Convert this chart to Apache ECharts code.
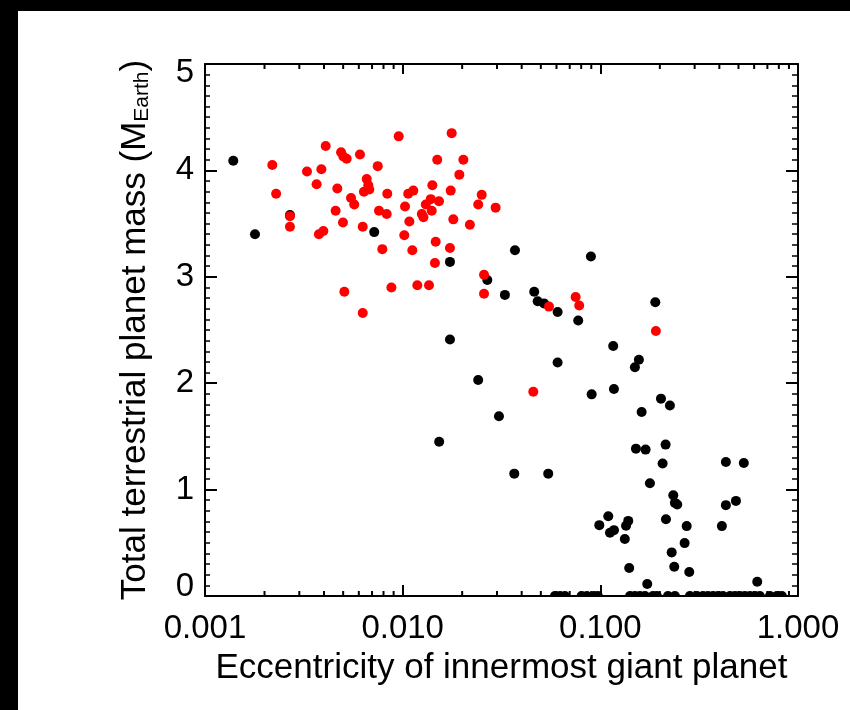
<!DOCTYPE html>
<html>
<head>
<meta charset="utf-8">
<script src="https://cdn.jsdelivr.net/npm/echarts@6/dist/echarts.min.js"></script>
<style>
html,body{margin:0;padding:0;background:#fff;overflow:hidden;}
#chart{position:fixed;left:0;top:0;width:850px;height:710px;background:#fff;}
</style>
</head>
<body>
<div id="chart"></div>
<script>
// ---- data ----
var blackEcc = [0.00139,0.00179,0.00269,0.00718,0.01735,0.01735,0.0153,0.0241,0.037,0.0896,0.0268,0.0329,0.0463,0.0482,0.0519,0.0608,0.0773,0.1897,0.1162,0.1567,0.1496,0.0608,0.0904,0.1172,0.2027,0.2249,0.1618,0.0307,0.1514,0.1694,0.2139,0.2066,0.4317,0.532,0.0367,0.0545,0.1782,0.2339,0.2384,0.2449,0.4853,0.4317,0.1097,0.0988,0.1119,0.1172,0.1384,0.1349,0.133,0.2148,0.2735,0.412,0.2669,0.2296,0.14,0.2366,0.2818,0.1727,0.622];
var blackMass = [4.09,3.40,3.58,3.42,3.14,2.41,1.45,2.03,3.25,3.19,2.97,2.83,2.86,2.77,2.75,2.67,2.59,2.76,2.35,2.22,2.15,2.195,1.895,1.945,1.855,1.79,1.73,1.69,1.385,1.376,1.423,1.245,1.26,1.25,1.15,1.15,1.06,0.947,0.875,0.86,0.894,0.854,0.75,0.666,0.594,0.619,0.706,0.66,0.535,0.722,0.657,0.657,0.497,0.41,0.263,0.275,0.225,0.113,0.134];
var redEcc = [0.00219,0.00229,0.00269,0.00269,0.00328,0.00367,0.00388,0.00408,0.00377,0.00397,0.00458,0.00467,0.00488,0.00501,0.00521,0.00499,0.00507,0.00548,0.00569,0.00608,0.00628,0.00628,0.00658,0.0067,0.00637,0.00678,0.00748,0.00759,0.00789,0.00836,0.0083,0.00877,0.00955,0.01028,0.01019,0.01067,0.01081,0.01132,0.01119,0.01186,0.0125,0.01274,0.01309,0.01359,0.01387,0.01403,0.01413,0.01469,0.01456,0.01496,0.01527,0.01735,0.0175,0.0177,0.01804,0.01935,0.02028,0.02188,0.02411,0.02511,0.02953,0.0258,0.0258,0.055,0.075,0.0782,0.191,0.0458];
var redMass = [4.05,3.78,3.57,3.47,3.99,3.87,4.01,4.23,3.40,3.43,3.62,3.83,4.17,4.13,4.11,3.51,2.86,3.74,3.68,4.15,3.47,2.66,3.92,3.86,3.80,3.82,4.04,3.62,3.26,3.78,3.59,2.90,4.32,3.66,3.39,3.78,3.52,3.81,3.25,2.92,3.59,3.56,3.68,2.92,3.73,3.62,3.86,3.33,3.13,4.10,3.71,3.27,3.81,4.35,3.54,3.96,4.10,3.49,3.68,3.77,3.65,3.02,2.84,2.72,2.81,2.73,2.49,1.92];
var zeroEcc = [0.0589,0.0625,0.0662,0.0804,0.0855,0.0928,0.0972,0.1413,0.1496,0.1585,0.1682,0.1846,0.1933,0.2198,0.2384,0.2838,0.3081,0.3304,0.3501,0.3715,0.3936,0.4170,0.4525,0.4797,0.5082,0.5385,0.5710,0.6050,0.6409,0.7206,0.7816,0.8285];
var xMinorTicks = [0.002,0.003,0.004,0.005,0.006,0.007,0.008,0.009,0.02,0.03,0.04,0.05,0.06,0.07,0.08,0.09,0.2,0.3,0.4,0.5,0.6,0.7,0.8,0.9];
var yMin = 0, yMax = 5;
var xTitle = 'Eccentricity of innermost giant planet';
var yTitleMain = 'Total terrestrial planet mass (M';
var yTitleSub = 'Earth';

function pairs(a,b){ return a.map(function(v,i){ return [v,b[i]]; }); }

var FONT = '"Liberation Sans", Arial, Helvetica, sans-serif';
var chart = echarts.init(document.getElementById('chart'), null, {renderer:'canvas', width:850, height:710});
var axisLineStyle = {color:'#000', width:2};
chart.setOption({
  animation:false,
  backgroundColor:'#fff',
  graphic:[
    {type:'rect', left:0, top:0, shape:{x:0, y:0, width:18, height:710}, style:{fill:'#000'}, silent:true, z:-10},
    {type:'rect', left:0, top:0, shape:{x:0, y:0, width:850, height:11}, style:{fill:'#000'}, silent:true, z:-10}
  ],
  grid:{left:205, right:52, top:64, bottom:114, containLabel:false},
  xAxis:[{
    type:'log', logBase:10, min:0.001, max:1, position:'bottom',
    axisLine:{show:true, onZero:false, lineStyle:axisLineStyle},
    axisTick:{show:true, inside:true, length:11, lineStyle:{color:'#000', width:2}},
    minorTick:{show:false},
    splitLine:{show:false},
    axisLabel:{show:true, margin:16, color:'#000', fontFamily:FONT, fontSize:33,
      formatter:function(v){ return Number(v).toFixed(3); }},
    name:xTitle, nameLocation:'middle', nameGap:55,
    nameTextStyle:{color:'#000', fontFamily:FONT, fontSize:35}
  },{
    type:'log', logBase:10, min:0.001, max:1, position:'top',
    axisLine:{show:true, onZero:false, lineStyle:axisLineStyle},
    axisTick:{show:true, inside:true, length:10, lineStyle:{color:'#000', width:2}},
    axisLabel:{show:false}, splitLine:{show:false}
  }],
  yAxis:[{
    type:'value', min:yMin, max:yMax, interval:1, position:'left',
    axisLine:{show:true, onZero:false, lineStyle:axisLineStyle},
    axisTick:{show:true, inside:true, length:12, lineStyle:{color:'#000', width:2}},
    minorTick:{show:true, splitNumber:10, length:5, lineStyle:{color:'#000', width:1.5}},
    splitLine:{show:false},
    axisLabel:{show:true, margin:11, color:'#000', fontFamily:FONT, fontSize:33,
      formatter:function(v){
        if (v === yMax) return '{top|' + v + '}';
        if (v === yMin) return '{bot|' + v + '}';
        return '' + v;
      },
      rich:{
        top:{fontFamily:FONT, fontSize:33, color:'#000', padding:[18,0,0,0]},
        bot:{fontFamily:FONT, fontSize:33, color:'#000', padding:[0,0,18,0]}
      }
    },
    name:'{m|' + yTitleMain + '}{s|' + yTitleSub + '}{m|)}',
    nameLocation:'middle', nameGap:52, nameRotate:90,
    nameTextStyle:{color:'#000', fontFamily:FONT, fontSize:35,
      rich:{
        m:{fontFamily:FONT, fontSize:35, color:'#000', verticalAlign:'bottom', lineHeight:44},
        s:{fontFamily:FONT, fontSize:21, color:'#000', verticalAlign:'bottom', lineHeight:28}
      }}
  },{
    type:'value', min:yMin, max:yMax, interval:1, position:'right',
    axisLine:{show:true, onZero:false, lineStyle:axisLineStyle},
    axisTick:{show:true, inside:true, length:12, lineStyle:{color:'#000', width:2}},
    minorTick:{show:true, splitNumber:10, length:6, lineStyle:{color:'#000', width:1.5}},
    splitLine:{show:false}, axisLabel:{show:false}
  }],
  series:[{
    type:'custom', name:'xminor', xAxisIndex:0, yAxisIndex:0, clip:false, silent:true,
    data:xMinorTicks.map(function(v){ return [v]; }),
    renderItem:function(params, api){
      var v = api.value(0);
      var pb = api.coord([v, yMin]);
      var pt = api.coord([v, yMax]);
      return {type:'group', children:[
        {type:'line', shape:{x1:pb[0], y1:pb[1], x2:pb[0], y2:pb[1]-5}, style:{stroke:'#000', lineWidth:2}},
        {type:'line', shape:{x1:pt[0], y1:pt[1], x2:pt[0], y2:pt[1]+5}, style:{stroke:'#000', lineWidth:2}}
      ]};
    }
  },{
    type:'scatter', name:'black', xAxisIndex:0, yAxisIndex:0,
    data:pairs(blackEcc, blackMass), symbol:'circle', symbolSize:10,
    itemStyle:{color:'#000', opacity:1}
  },{
    type:'scatter', name:'zero', xAxisIndex:0, yAxisIndex:0, clip:false,
    data:zeroEcc.map(function(v){ return [v, 0]; }),
    symbol:'path://M0,10A10,10,0,0,1,20,10Z', symbolSize:[10,5], symbolOffset:[0,-2.5],
    itemStyle:{color:'#000', opacity:1}
  },{
    type:'scatter', name:'red', xAxisIndex:0, yAxisIndex:0,
    data:pairs(redEcc, redMass), symbol:'circle', symbolSize:10,
    itemStyle:{color:'#ff0000', opacity:1}
  }]
});
</script>
</body>
</html>
